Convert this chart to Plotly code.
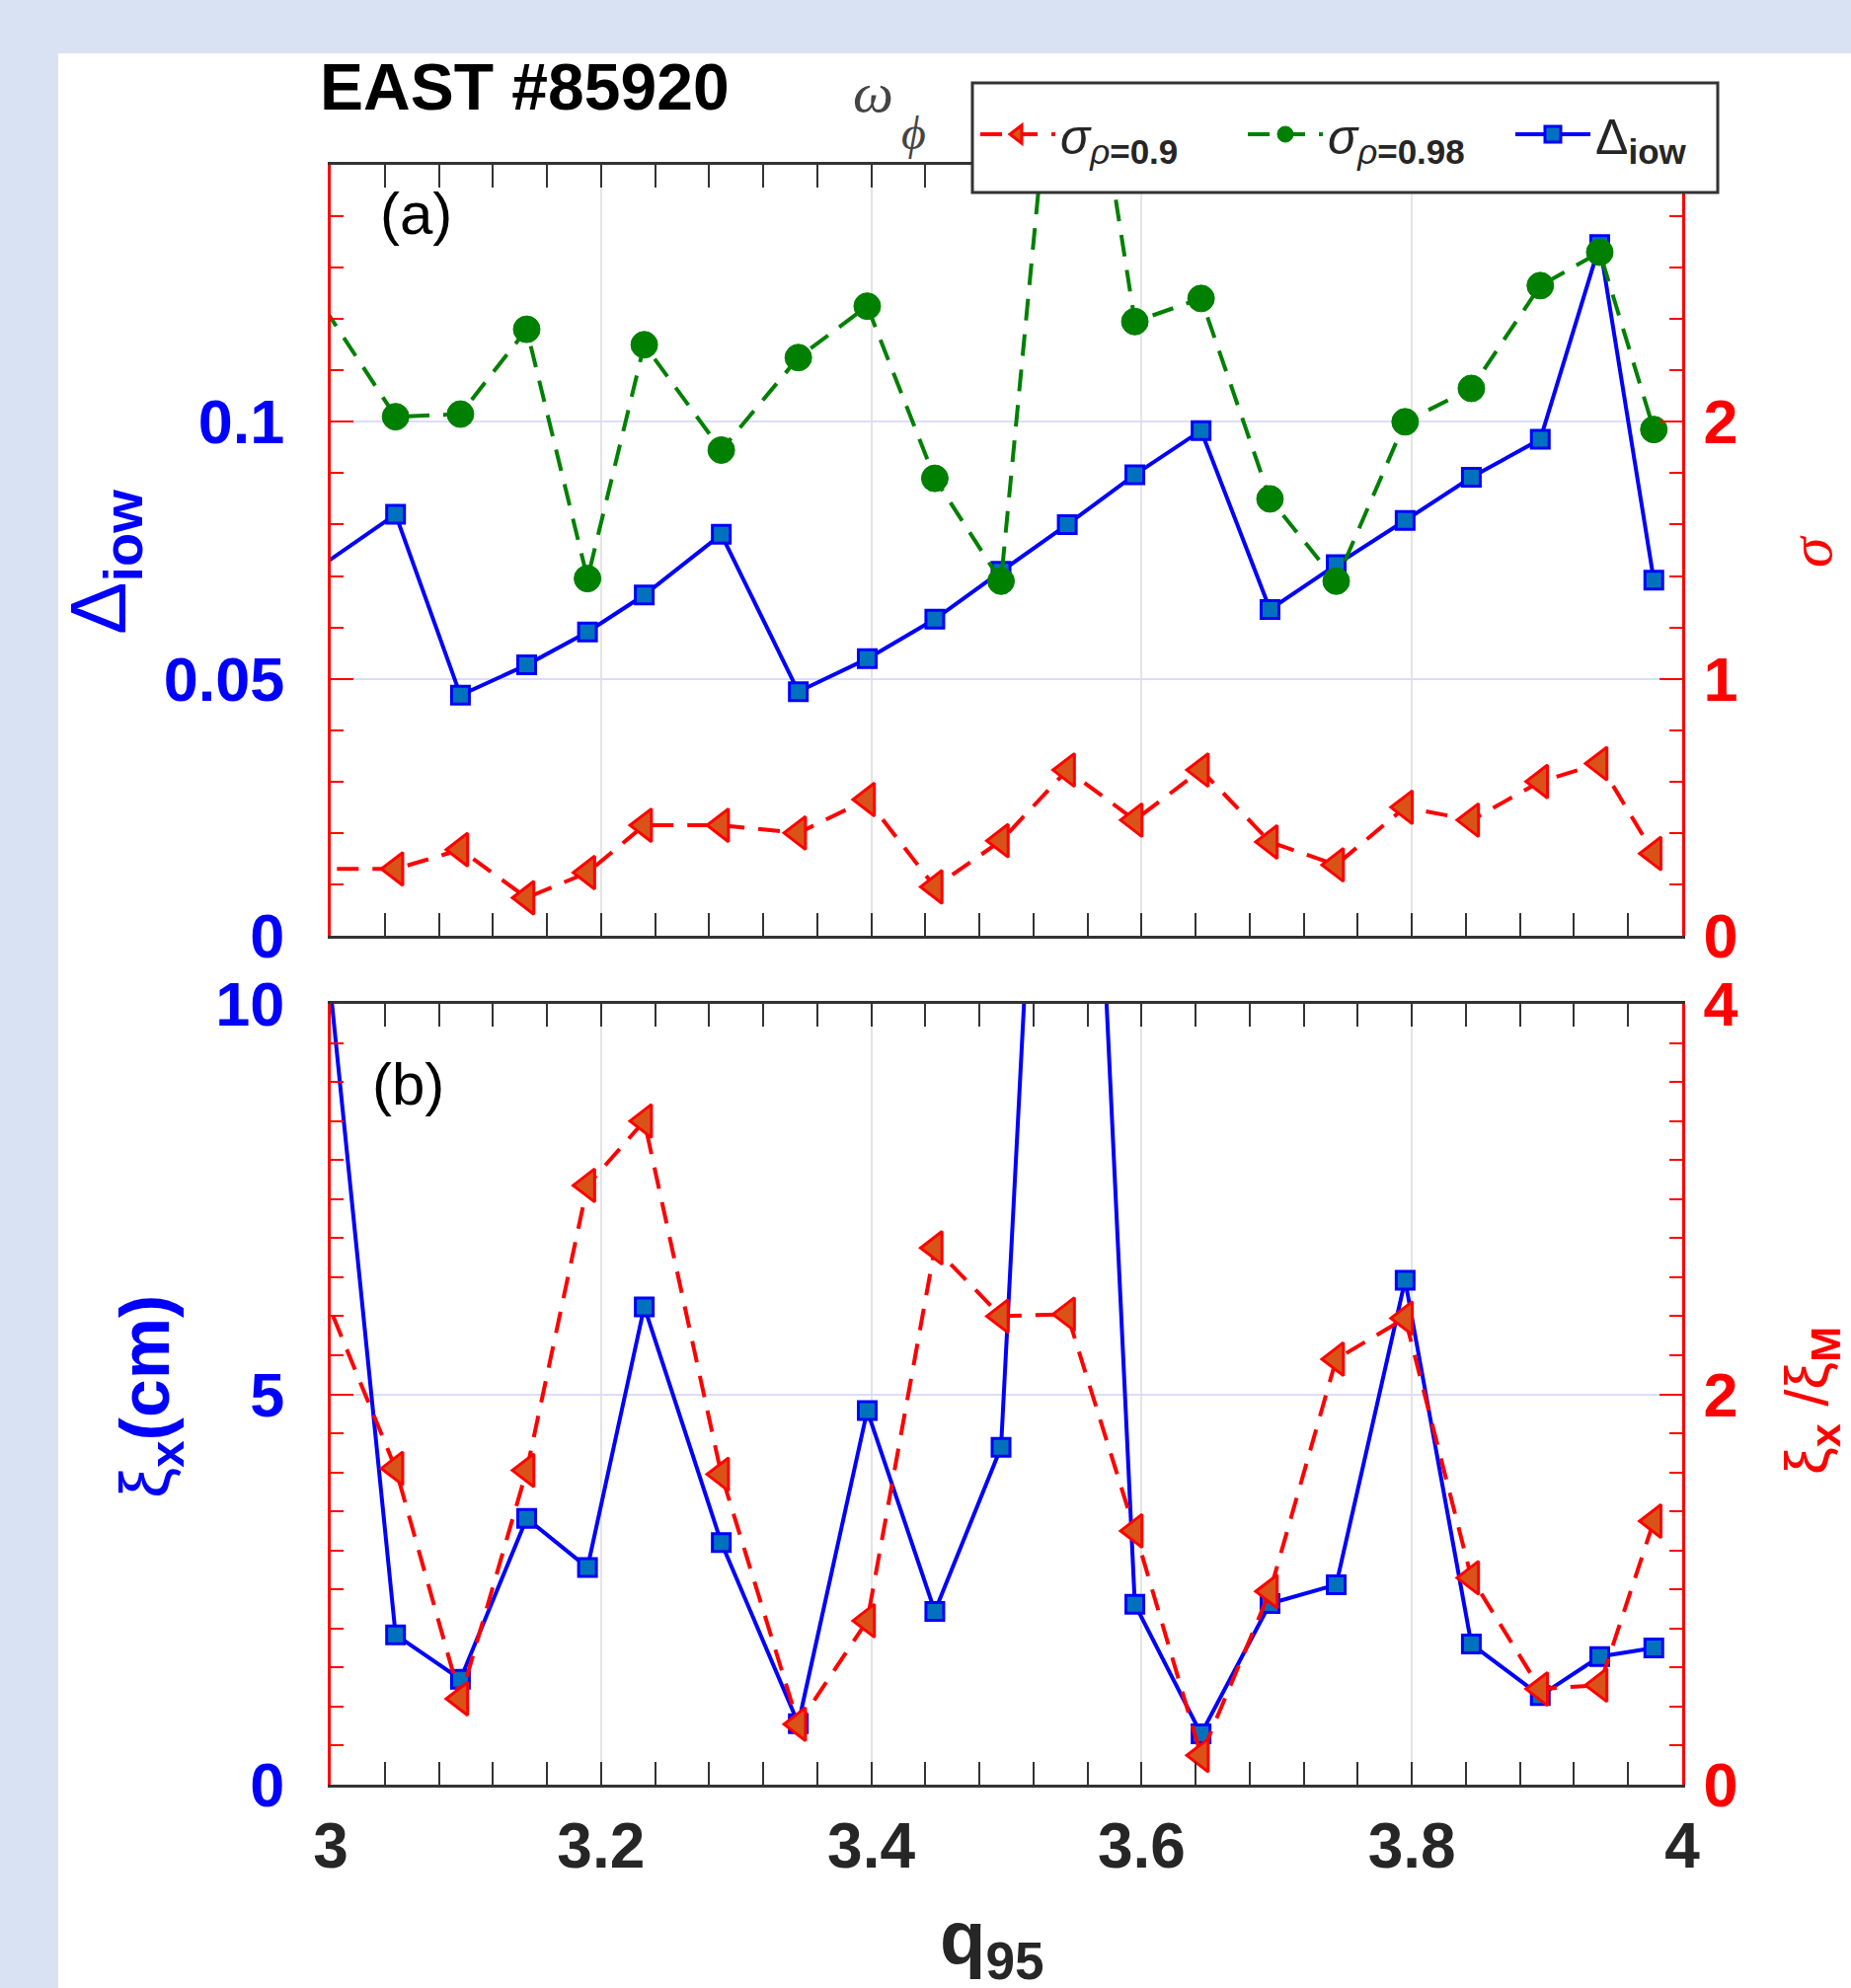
import plotly.graph_objects as go

# ---------------- data ----------------
q95 = [2.952, 3.048, 3.096, 3.145, 3.190, 3.232, 3.289, 3.346, 3.397, 3.447, 3.496,
       3.545, 3.595, 3.644, 3.695, 3.744, 3.795, 3.844, 3.895, 3.939, 3.979]
delta_iow = [0.0645, 0.0820, 0.0468, 0.0527, 0.0591, 0.0663, 0.0781, 0.0475, 0.0539, 0.0616, 0.0709,
             0.0800, 0.0897, 0.0983, 0.0635, 0.0722, 0.0808, 0.0892, 0.0966, 0.1345, 0.0692]
sigma_rho098 = [2.79, 2.02, 2.03, 2.36, 1.39, 2.30, 1.89, 2.25, 2.45, 1.78, 1.38,
                4.07, 2.39, 2.48, 1.70, 1.38, 2.00, 2.13, 2.53, 2.66, 1.97]
sigma_rho09 = [0.26, 0.26, 0.335, 0.148, 0.246, 0.43, 0.43, 0.40, 0.53, 0.19, 0.37,
               0.645, 0.45, 0.645, 0.365, 0.276, 0.50, 0.45, 0.60, 0.67, 0.32]
xi_x_cm = [18.4, 1.92, 1.35, 3.41, 2.78, 6.12, 3.10, 0.78, 4.79, 2.22, 4.32,
           20.7, 2.31, 0.65, 2.32, 2.56, 6.46, 1.80, 1.14, 1.64, 1.75]
xi_ratio = [3.24, 1.62, 0.44, 1.61, 3.07, 3.40, 1.59, 0.31, 0.84, 2.75, 2.40,
            2.41, 1.30, 0.15, 0.99, 2.18, 2.39, 1.06, 0.49, 0.51, 1.35]

x_ticks = [3, 3.2, 3.4, 3.6, 3.8, 4]
x_ticktext = ["3", "3.2", "3.4", "3.6", "3.8", "4"]
ya_left_ticks = [0, 0.05, 0.1]
ya_left_text = ["0", "0.05", "0.1"]
ya_right_ticks = [0, 1, 2]
yb_left_ticks = [0, 5, 10]
yb_right_ticks = [0, 2, 4]

# ---------------- style ----------------
BLUE = "#0000ff"
RED = "#ff0000"
GREEN = "#008000"
DARK = "#262626"
SANS = "Liberation Sans, Arial, sans-serif"
SERIF = "Liberation Serif, DejaVu Serif, serif"

W, H = 1875, 2014
ML, MR, MT, MB = 335, 171, 167, 206
PW, PH = W - ML - MR, H - MT - MB


def px_x(p):
    return (p - ML) / PW


def px_y(p):
    return (H - MB - p) / PH


fig = go.Figure()

# panel (a)
fig.add_trace(go.Scatter(
    x=q95, y=delta_iow, xaxis="x", yaxis="y", mode="lines+markers",
    name="Δ<sub><b>iow</b></sub>", legendrank=3,
    line=dict(color=BLUE, width=4),
    marker=dict(symbol="square", size=18, color="#0072bd", line=dict(color=BLUE, width=3))))
fig.add_trace(go.Scatter(
    x=q95, y=sigma_rho098, xaxis="x", yaxis="y2", mode="lines+markers",
    name="<i>σ</i><sub><i>ρ</i><b>=0.98</b></sub>", legendrank=2,
    line=dict(color=GREEN, width=4, dash="22px,14px"),
    marker=dict(symbol="circle", size=27, color=GREEN, line=dict(color=GREEN, width=1))))
fig.add_trace(go.Scatter(
    x=q95, y=sigma_rho09, xaxis="x", yaxis="y2", mode="lines+markers",
    name="<i>σ</i><sub><i>ρ</i><b>=0.9</b></sub>", legendrank=1,
    line=dict(color=RED, width=4, dash="22px,14px"),
    marker=dict(symbol="triangle-left", size=29, color="#d95319", line=dict(color=RED, width=3))))

# panel (b)
fig.add_trace(go.Scatter(
    x=q95, y=xi_x_cm, xaxis="x2", yaxis="y3", mode="lines+markers", showlegend=False,
    line=dict(color=BLUE, width=4),
    marker=dict(symbol="square", size=18, color="#0072bd", line=dict(color=BLUE, width=3))))
fig.add_trace(go.Scatter(
    x=q95, y=xi_ratio, xaxis="x2", yaxis="y4", mode="lines+markers", showlegend=False,
    line=dict(color=RED, width=4, dash="22px,14px"),
    marker=dict(symbol="triangle-left", size=29, color="#d95319", line=dict(color=RED, width=3))))

xcommon = dict(
    range=[3, 4], tickmode="array", tickvals=x_ticks, ticktext=x_ticktext,
    ticks="inside", ticklen=23, tickwidth=2, tickcolor="#333",
    minor=dict(tickmode="linear", tick0=3, dtick=0.04, ticks="inside", ticklen=13,
               tickwidth=2, tickcolor="#333", showgrid=False),
    showgrid=True, gridcolor="#e4e4e4", gridwidth=2,
    showline=True, linecolor="#333", linewidth=3, mirror="allticks",
    zeroline=False, fixedrange=True)

ycommon = dict(ticks="inside", ticklen=23, tickwidth=2, tickcolor=RED,
               showline=True, linecolor=RED, linewidth=3, zeroline=False,
               tickmode="array")

fig.update_layout(
    width=W, height=H,
    margin=dict(l=ML, r=MR, t=MT, b=MB, autoexpand=False),
    paper_bgcolor="#d9e2f3", plot_bgcolor="white",
    showlegend=True,
    xaxis=dict(domain=[0, 1], anchor="y", showticklabels=False, **xcommon),
    xaxis2=dict(domain=[0, 1], anchor="y3", showticklabels=True,
                tickfont=dict(family=SANS, size=64, color=DARK, weight="bold"),
                ticklabelstandoff=4, **xcommon),
    yaxis=dict(domain=[px_y(948), 1], anchor="x", range=[0, 0.15],
               tickvals=ya_left_ticks, ticktext=ya_left_text,
               minor=dict(tickmode="linear", tick0=0, dtick=0.01, ticks="inside", ticklen=13,
                          tickwidth=2, tickcolor=RED, showgrid=False),
               showgrid=True, gridcolor="#dcdcff", gridwidth=2,
               tickfont=dict(family=SANS, size=63, color=BLUE, weight="bold"),
               ticklabelstandoff=31, **ycommon),
    yaxis2=dict(overlaying="y", side="right", anchor="x", range=[0, 3],
                tickvals=ya_right_ticks,
                minor=dict(tickmode="linear", tick0=0, dtick=0.2, ticks="inside", ticklen=13,
                           tickwidth=2, tickcolor=RED, showgrid=False),
                showgrid=False,
                tickfont=dict(family=SANS, size=63, color=RED, weight="bold"),
                ticklabelstandoff=6, **ycommon),
    yaxis3=dict(domain=[0, px_y(1017)], anchor="x2", range=[0, 10],
                tickvals=yb_left_ticks,
                minor=dict(tickmode="linear", tick0=0, dtick=0.5, ticks="inside", ticklen=13,
                           tickwidth=2, tickcolor=RED, showgrid=False),
                showgrid=True, gridcolor="#dcdcff", gridwidth=2,
                tickfont=dict(family=SANS, size=63, color=BLUE, weight="bold"),
                ticklabelstandoff=31, **ycommon),
    yaxis4=dict(overlaying="y3", side="right", anchor="x2", range=[0, 4],
                tickvals=yb_right_ticks,
                minor=dict(tickmode="linear", tick0=0, dtick=0.2, ticks="inside", ticklen=13,
                           tickwidth=2, tickcolor=RED, showgrid=False),
                showgrid=False,
                tickfont=dict(family=SANS, size=63, color=RED, weight="bold"),
                ticklabelstandoff=6, **ycommon),
    legend=dict(orientation="h", x=px_x(988), y=px_y(136), xanchor="left", yanchor="middle",
                bgcolor="rgba(0,0,0,0)", borderwidth=0,
                font=dict(family=SANS, size=50, color=DARK),
                itemwidth=76, entrywidth=180, entrywidthmode="pixels",
                traceorder="normal"),
)

# white figure panel over the light-blue page
fig.add_shape(type="rect", xref="paper", yref="paper", layer="below",
              x0=px_x(59), x1=px_x(W + 10), y0=px_y(H + 10), y1=px_y(54),
              fillcolor="white", line=dict(width=0))
# legend frame (white box covering the traces underneath)
fig.add_shape(type="rect", xref="paper", yref="paper", layer="above",
              x0=px_x(985), x1=px_x(1740), y0=px_y(195), y1=px_y(84),
              fillcolor="white", line=dict(color="#333", width=3))

ann = []
ann.append(dict(text="<b>EAST #85920</b>", x=px_x(322), y=px_y(88), xanchor="left", yanchor="middle",
                font=dict(family=SANS, size=66, color="black")))
ann.append(dict(text="<i>ω</i>", x=px_x(884), y=px_y(94), xanchor="center", yanchor="middle",
                font=dict(family=SERIF, size=58, color="#444")))
ann.append(dict(text="<i>ϕ</i>", x=px_x(925), y=px_y(135), xanchor="center", yanchor="middle",
                font=dict(family=SERIF, size=48, color="#444")))
ann.append(dict(text="(a)", x=px_x(421), y=px_y(216), xanchor="center", yanchor="middle",
                font=dict(family=SANS, size=60, color="black")))
ann.append(dict(text="(b)", x=px_x(413), y=px_y(1098), xanchor="center", yanchor="middle",
                font=dict(family=SANS, size=60, color="black")))
ann.append(dict(text="Δ<sub><b>iow</b></sub>", x=px_x(105), y=px_y(570), textangle=-90,
                xanchor="center", yanchor="middle",
                font=dict(family=SANS, size=80, color=BLUE)))
ann.append(dict(text="<i>σ</i>", x=px_x(1834), y=px_y(559), textangle=-90,
                xanchor="center", yanchor="middle",
                font=dict(family=SERIF, size=62, color=RED)))
ann.append(dict(text="ξ<sub><b>x</b></sub><b>(cm)</b>", x=px_x(152), y=px_y(1415), textangle=-90,
                xanchor="center", yanchor="middle",
                font=dict(family=SANS, size=70, color=BLUE)))
ann.append(dict(text="ξ<sub><b>x</b></sub> /ξ<sub><b>M</b></sub>", x=px_x(1834), y=px_y(1419), textangle=-90,
                xanchor="center", yanchor="middle",
                font=dict(family=SANS, size=62, color=RED)))
ann.append(dict(text="<b>q<sub>95</sub></b>", x=px_x(1005), y=px_y(1918), xanchor="center", yanchor="top",
                font=dict(family=SANS, size=76, color=DARK)))
for a in ann:
    a.update(xref="paper", yref="paper", showarrow=False)
fig.update_layout(annotations=ann)

fig.write_html("out.html")
